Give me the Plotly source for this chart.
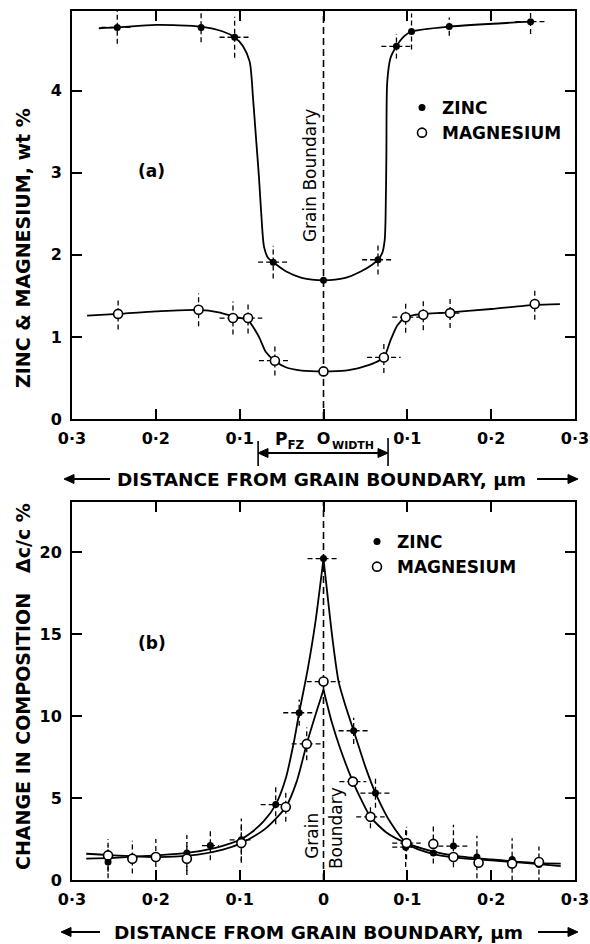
import plotly.graph_objects as go

# ---------------- data: panel (a) composition profile ----------------
zn_a_x = [-0.246, -0.146, -0.106, -0.060, 0.0, 0.065, 0.087, 0.105, 0.150, 0.247]
zn_a_y = [4.77, 4.77, 4.65, 1.91, 1.69, 1.94, 4.54, 4.72, 4.78, 4.84]
zn_a_ex = [0.019, 0, 0.018, 0.018, 0, 0.019, 0.018, 0, 0, 0.018]
zn_a_ey = [0.20, 0.18, 0.25, 0.20, 0, 0.18, 0.15, 0.22, 0.11, 0.15]

mg_a_x = [-0.245, -0.149, -0.108, -0.090, -0.058, 0.0, 0.072, 0.098, 0.119, 0.151, 0.252]
mg_a_y = [1.28, 1.33, 1.23, 1.23, 0.71, 0.58, 0.75, 1.24, 1.27, 1.29, 1.40]
mg_a_ex = [0, 0, 0.016, 0.017, 0.019, 0, 0.020, 0.016, 0, 0.014, 0]
mg_a_ey = [0.19, 0.20, 0.20, 0.19, 0.18, 0, 0.19, 0.19, 0.19, 0.18, 0.19]

# fitted curves as drawn in panel (a)
zn_a_curve_x = [-0.268, -0.246, -0.200, -0.146, -0.120, -0.106, -0.096, -0.088, -0.084,
                -0.081, -0.077, -0.074, -0.071, -0.066, -0.060, -0.045, -0.026, 0.0,
                0.026, 0.045, 0.058, 0.065, 0.070, 0.073, 0.074, 0.075, 0.076, 0.080,
                0.087, 0.096, 0.105, 0.150, 0.247]
zn_a_curve_y = [4.76, 4.77, 4.80, 4.78, 4.72, 4.65, 4.54, 4.35, 3.90,
                3.49, 2.95, 2.46, 2.10, 1.96, 1.91, 1.80, 1.72, 1.69,
                1.72, 1.80, 1.88, 1.94, 2.02, 2.18, 2.43, 3.20, 4.10, 4.40,
                4.54, 4.66, 4.72, 4.78, 4.84]
mg_a_curve_x = [-0.282, -0.245, -0.200, -0.149, -0.125, -0.108, -0.090, -0.077, -0.069,
                -0.058, -0.045, -0.026, 0.0, 0.026, 0.045, 0.060, 0.072, 0.080, 0.088,
                0.098, 0.110, 0.119, 0.151, 0.200, 0.252, 0.282]
mg_a_curve_y = [1.26, 1.28, 1.31, 1.33, 1.30, 1.25, 1.20, 1.00, 0.82,
                0.71, 0.63, 0.59, 0.58, 0.59, 0.63, 0.68, 0.75, 0.96, 1.14,
                1.24, 1.27, 1.28, 1.30, 1.34, 1.39, 1.40]

# ---------------- data: panel (b) change in composition ----------------
zn_b_x = [-0.257, -0.228, -0.200, -0.163, -0.135, -0.098, -0.057, -0.029, 0.0,
          0.036, 0.062, 0.098, 0.131, 0.155, 0.183, 0.225, 0.257]
zn_b_y = [1.10, 1.40, 1.50, 1.65, 2.10, 2.45, 4.60, 10.2, 19.6,
          9.10, 5.30, 2.00, 1.65, 2.07, 1.40, 1.25, 0.95]
zn_b_ex = [0, 0, 0, 0, 0.010, 0.014, 0.018, 0.019, 0.019,
           0.018, 0.018, 0.016, 0, 0.018, 0, 0, 0]
zn_b_ey = [1.0, 1.0, 0, 1.1, 0.9, 1.3, 1.2, 0.8, 0,
           0.8, 0.9, 1.2, 0, 1.3, 1.3, 1.3, 1.1]

mg_b_x = [-0.257, -0.228, -0.200, -0.163, -0.098, -0.045, -0.020, 0.0,
          0.035, 0.056, 0.099, 0.131, 0.155, 0.185, 0.225, 0.257]
mg_b_y = [1.50, 1.30, 1.40, 1.30, 2.25, 4.45, 8.30, 12.1,
          6.00, 3.85, 2.25, 2.20, 1.40, 1.05, 1.00, 1.10]
mg_b_ex = [0, 0, 0, 0, 0, 0, 0.018, 0.020,
           0.016, 0.017, 0.017, 0, 0, 0, 0, 0]
mg_b_ey = [1.0, 0, 1.1, 1.0, 1.2, 0.9, 1.0, 0,
           0, 0.7, 1.0, 1.2, 0, 0, 0, 0]

zn_b_curve_x = [-0.283, -0.250, -0.200, -0.163, -0.130, -0.110, -0.098, -0.086, -0.071,
                -0.057, -0.045, -0.035, -0.029, -0.019, -0.010, 0.0,
                0.011, 0.018, 0.027, 0.036, 0.050, 0.062, 0.080, 0.100, 0.130,
                0.160, 0.200, 0.250, 0.283]
zn_b_curve_y = [1.30, 1.35, 1.50, 1.65, 1.95, 2.25, 2.50, 2.90, 3.60,
                4.60, 6.20, 8.50, 10.2, 12.8, 15.6, 19.6,
                14.6, 12.1, 10.5, 9.10, 6.90, 5.30, 3.50, 2.20, 1.60,
                1.35, 1.20, 1.00, 0.85]
mg_b_curve_x = [-0.283, -0.250, -0.200, -0.150, -0.120, -0.098, -0.070, -0.045, -0.032,
                -0.020, -0.010, 0.0,
                0.010, 0.020, 0.035, 0.045, 0.056, 0.075, 0.099, 0.130, 0.160,
                0.200, 0.250, 0.283]
mg_b_curve_y = [1.60, 1.50, 1.40, 1.55, 1.85, 2.25, 3.10, 4.45, 6.00,
                8.30, 10.0, 11.6,
                9.60, 8.00, 6.00, 4.90, 3.85, 2.90, 2.25, 1.75, 1.45,
                1.25, 1.05, 1.00]

x_tickvals = [-0.3, -0.2, -0.1, 0.0, 0.1, 0.2, 0.3]
x_ticktext = ["0·3", "0·2", "0·1", "0", "0·1", "0·2", "0·3"]
x_ticktext_a = ["0·3", "0·2", "0·1", "O", "0·1", "0·2", "0·3"]
ya_tickvals = [0, 1, 2, 3, 4]
yb_tickvals = [0, 5, 10, 15, 20]

# ---------------- layout helpers ----------------
W, H = 590, 944
FONT = "DejaVu Sans"


def px(xp):
    return xp / W


def py(yp):
    return 1 - yp / H


fig = go.Figure()


def add_curve(x, y, xa, ya, split=False):
    segs = [(x, y)]
    if split:
        i0 = x.index(0.0)
        segs = [(x[:i0 + 1], y[:i0 + 1]), (x[i0:], y[i0:])]
    for sx, sy in segs:
        fig.add_trace(go.Scatter(x=sx, y=sy, mode="lines", xaxis=xa, yaxis=ya,
                                 line=dict(color="black", width=1.8, shape="spline", smoothing=0.7),
                                 showlegend=False, hoverinfo="skip"))


def add_err(x, y, ex, ey, xa, ya):
    xs, ys = [], []
    for xi, yi, exi, eyi in zip(x, y, ex, ey):
        if exi:
            xs += [xi - exi, xi + exi, None]
            ys += [yi, yi, None]
        if eyi:
            xs += [xi, xi, None]
            ys += [yi - eyi, yi + eyi, None]
    fig.add_trace(go.Scatter(x=xs, y=ys, mode="lines", xaxis=xa, yaxis=ya,
                             line=dict(color="black", width=1.3, dash="5px,3px"),
                             showlegend=False, hoverinfo="skip"))


def add_points(x, y, filled, name, xa, ya, legend):
    if filled:
        marker = dict(symbol="circle", size=7, color="black", line=dict(color="black", width=0))
    else:
        marker = dict(symbol="circle", size=9, color="white", line=dict(color="black", width=1.6))
    fig.add_trace(go.Scatter(x=x, y=y, mode="markers", xaxis=xa, yaxis=ya, name=name,
                             marker=marker, legend=legend))


# panel (a)
add_err(zn_a_x, zn_a_y, zn_a_ex, zn_a_ey, "x", "y")
add_err(mg_a_x, mg_a_y, mg_a_ex, mg_a_ey, "x", "y")
add_curve(zn_a_curve_x, zn_a_curve_y, "x", "y")
add_curve(mg_a_curve_x, mg_a_curve_y, "x", "y")
add_points(zn_a_x, zn_a_y, True, "ZINC", "x", "y", "legend")
add_points(mg_a_x, mg_a_y, False, "MAGNESIUM", "x", "y", "legend")

# panel (b)
add_err(zn_b_x, zn_b_y, zn_b_ex, zn_b_ey, "x2", "y2")
add_err(mg_b_x, mg_b_y, mg_b_ex, mg_b_ey, "x2", "y2")
add_curve(zn_b_curve_x, zn_b_curve_y, "x2", "y2", split=True)
add_curve(mg_b_curve_x, mg_b_curve_y, "x2", "y2", split=True)
add_points(zn_b_x, zn_b_y, True, "ZINC", "x2", "y2", "legend2")
add_points(mg_b_x, mg_b_y, False, "MAGNESIUM", "x2", "y2", "legend2")

tickfont = dict(family=FONT, size=16, color="black", weight="bold")
axis_common = dict(showline=True, linewidth=2, linecolor="black", mirror="ticks",
                   ticks="inside", ticklen=10, tickwidth=1.5, tickcolor="black",
                   showgrid=False, zeroline=False, tickfont=tickfont, automargin=False,
                   fixedrange=True)

fig.update_layout(
    width=W, height=H,
    margin=dict(l=0, r=0, t=0, b=0),
    paper_bgcolor="white", plot_bgcolor="white",
    font=dict(family=FONT, color="black"),
    xaxis=dict(domain=[px(72), px(575)], range=[-0.3, 0.3], anchor="y",
               tickmode="array", tickvals=x_tickvals, ticktext=x_ticktext_a,
               ticklabelstandoff=4, **axis_common),
    yaxis=dict(domain=[py(419), py(11)], range=[0, 4.97], anchor="x",
               tickmode="array", tickvals=ya_tickvals, ticklabelstandoff=5, **axis_common),
    xaxis2=dict(domain=[px(72), px(575)], range=[-0.3, 0.3], anchor="y2",
                tickmode="array", tickvals=x_tickvals, ticktext=x_ticktext,
                ticklabelstandoff=4, **axis_common),
    yaxis2=dict(domain=[py(880), py(502)], range=[0, 23.05], anchor="x2",
                tickmode="array", tickvals=yb_tickvals, ticklabelstandoff=5, **axis_common),
    legend=dict(x=px(402), y=py(90), xanchor="left", yanchor="top",
                bgcolor="rgba(0,0,0,0)", font=dict(family=FONT, size=17, weight="bold"),
                tracegroupgap=0, itemclick=False, itemdoubleclick=False),
    legend2=dict(x=px(357), y=py(524), xanchor="left", yanchor="top",
                 bgcolor="rgba(0,0,0,0)", font=dict(family=FONT, size=17, weight="bold"),
                 tracegroupgap=0, itemclick=False, itemdoubleclick=False),
    showlegend=True,
)

# grain-boundary dashed lines
for xr, yr in (("x", "y domain"), ("x2", "y2 domain")):
    fig.add_shape(type="line", xref=xr, yref=yr, x0=0, x1=0, y0=0, y1=1,
                  line=dict(color="black", width=1.6, dash="7px,4px"), layer="below")

ann = []
bold = dict(family=FONT, size=17, color="black", weight="bold")
title_font = dict(family=FONT, size=19, color="black", weight="bold")
xt_font = dict(family=FONT, size=18.5, color="black", weight="bold")
C = dict(xanchor="center", yanchor="middle", showarrow=False)
# y-axis titles
ann.append(dict(text="ZINC & MAGNESIUM, wt %", x=px(23), y=py(248), xref="paper", yref="paper",
                textangle=-90, font=title_font, **C))
ann.append(dict(text="CHANGE IN COMPOSITION", x=px(23), y=py(732), xref="paper", yref="paper",
                textangle=-90, font=title_font, **C))
ann.append(dict(text="Δc/c %", x=px(23), y=py(538), xref="paper", yref="paper",
                textangle=-90, font=title_font, **C))
# x-axis titles (arrows drawn as shapes below)
for cx, cy in ((322, 479), (318, 932)):
    ann.append(dict(text="DISTANCE FROM GRAIN BOUNDARY, µm", x=px(cx), y=py(cy),
                    xref="paper", yref="paper", font=xt_font, **C))
# panel labels
ann.append(dict(text="(a)", x=-0.205, y=3.02, xref="x", yref="y", font=bold, **C))
ann.append(dict(text="(b)", x=-0.205, y=14.45, xref="x2", yref="y2", font=bold, **C))
# grain boundary labels
gb_font = dict(family=FONT, size=17, color="black")
ann.append(dict(text="Grain Boundary", x=-0.016, y=2.96, xref="x", yref="y", textangle=-90,
                font=gb_font, **C))
ann.append(dict(text="Grain", x=-0.014, y=2.68, xref="x2", yref="y2", textangle=-90,
                font=gb_font, **C))
ann.append(dict(text="Boundary", x=0.015, y=3.17, xref="x2", yref="y2", textangle=-90,
                font=gb_font, **C))
# PFZ width marker
ann.append(dict(text="P<sub>FZ</sub>", x=-0.04, y=py(441), xref="x", yref="paper",
                font=bold, **C))
ann.append(dict(text="WIDTH", x=0.008, y=py(445), xref="x", yref="paper", xanchor="left",
                yanchor="middle", showarrow=False,
                font=dict(family=FONT, size=11, color="black", weight="bold")))
fig.update_layout(annotations=ann)

# arrow lines and heads (shapes)
def arrow(x0, x1, yp, xref="paper"):
    """horizontal arrow from x0 to head at x1 (pixels unless xref is an axis)"""
    X0 = px(x0) if xref == "paper" else x0
    X1 = px(x1) if xref == "paper" else x1
    fig.add_shape(type="line", xref=xref, yref="paper", x0=X0, x1=X1, y0=py(yp), y1=py(yp),
                  line=dict(color="black", width=2))


def head(xp, yp, direction):
    # small triangle arrowhead in pixel space
    d = 10 * direction
    path = (f"M {px(xp)} {py(yp)} L {px(xp - d)} {py(yp - 4.5)} "
            f"L {px(xp - d)} {py(yp + 4.5)} Z")
    fig.add_shape(type="path", xref="paper", yref="paper", path=path,
                  fillcolor="black", line=dict(color="black", width=1))


for cy, l0, l1, r0, r1 in ((479, 110, 64, 537, 578), (932, 100, 61, 538, 578)):
    arrow(l0, l1 + 6, cy)
    head(l1, cy, -1)
    arrow(r0, r1 - 6, cy)
    head(r1, cy, 1)

# PFZ double arrow between -0.078 and 0.077 (pixels 258..388)
arrow(262, 384, 453)
head(258, 453, -1)
head(388, 453, 1)
for xv, y0, y1 in ((-0.078, 441, 466), (0.077, 438, 466)):
    fig.add_shape(type="line", xref="x", yref="paper", x0=xv, x1=xv, y0=py(y1), y1=py(y0),
                  line=dict(color="black", width=1.6))

fig.write_html("out.html", post_script="document.body.style.margin='0';",
               config={"displayModeBar": False})
